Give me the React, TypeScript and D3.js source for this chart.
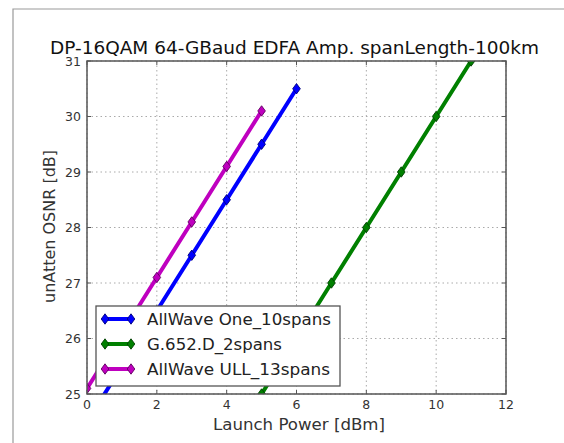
import React from "react";
import * as d3 from "d3";

const xTicks = [0, 2, 4, 6, 8, 10, 12];
const yTicks = [25, 26, 27, 28, 29, 30, 31];

const blueX = [0, 1, 2, 3, 4, 5, 6];
const blueY = [24.5, 25.5, 26.5, 27.5, 28.5, 29.5, 30.5];
const greenX = [5, 6, 7, 8, 9, 10, 11];
const greenY = [25, 26, 27, 28, 29, 30, 31];
const magentaX = [0, 1, 2, 3, 4, 5];
const magentaY = [25.1, 26.1, 27.1, 28.1, 29.1, 30.1];

const seriesNames = ["AllWave One_10spans", "G.652.D_2spans", "AllWave ULL_13spans"];
const seriesColors = ["#0000ff", "#008000", "#bf00bf"];
const seriesEdge = ["#00007a", "#004000", "#600060"];

const title = "DP-16QAM 64-GBaud EDFA Amp. spanLength-100km";
const xLabel = "Launch Power [dBm]";
const yLabel = "unAtten OSNR [dB]";

export default function App() {
  const W = 564, H = 443;
  const left = 87, right = 506, top = 61, bottom = 394;
  const x = d3.scaleLinear().domain([0, 12]).range([left, right]);
  const y = d3.scaleLinear().domain([25, 31]).range([bottom, top]);
  const font = "'DejaVu Sans', sans-serif";
  const series = [
    { xs: blueX, ys: blueY },
    { xs: greenX, ys: greenY },
    { xs: magentaX, ys: magentaY },
  ];
  const line = d3.line<[number, number]>().x(d => x(d[0])).y(d => y(d[1]));
  const diamond = (cx: number, cy: number, w = 3.8, h = 5.2) =>
    `M${cx},${cy - h}L${cx + w},${cy}L${cx},${cy + h}L${cx - w},${cy}Z`;

  const legX = 96, legY = 306, legW = 244, legH = 80;
  const rowY = [319, 344, 369];
  const legLens = [184, 135, 183];

  return (
    <svg width={W} height={H} style={{ position: "absolute", left: 0, top: 0 }} fontFamily={font}>
      <rect x={0} y={0} width={W} height={H} fill="#fff" />
      <path d={`M13,${H}V9H${W}`} fill="none" stroke="#9a9a9a" strokeWidth={1.2} />
      <defs>
        <clipPath id="plotclip">
          <rect x={left} y={top} width={right - left} height={bottom - top} />
        </clipPath>
      </defs>
      {/* grid */}
      {xTicks.map(t => (
        <line key={"gx" + t} x1={x(t)} x2={x(t)} y1={top} y2={bottom} stroke="#aaa" strokeDasharray="1.5,3" strokeWidth={1} />
      ))}
      {yTicks.map(t => (
        <line key={"gy" + t} x1={left} x2={right} y1={y(t)} y2={y(t)} stroke="#aaa" strokeDasharray="1.5,3" strokeWidth={1} />
      ))}
      {/* ticks */}
      {xTicks.map(t => (
        <g key={"tx" + t}>
          <line x1={x(t)} x2={x(t)} y1={bottom} y2={bottom - 4} stroke="#555" />
          <line x1={x(t)} x2={x(t)} y1={top} y2={top + 4} stroke="#555" />
          <text x={x(t)} y={409} textAnchor="middle" fontSize={12.5} fill="#333">{t}</text>
        </g>
      ))}
      {yTicks.map(t => (
        <g key={"ty" + t}>
          <line x1={left} x2={left + 4} y1={y(t)} y2={y(t)} stroke="#555" />
          <line x1={right} x2={right - 4} y1={y(t)} y2={y(t)} stroke="#555" />
          <text x={81} y={y(t) + 4.5} textAnchor="end" fontSize={12.5} fill="#333">{t}</text>
        </g>
      ))}
      {/* data */}
      <g clipPath="url(#plotclip)">
        {series.map((s, i) => {
          const pts = s.xs.map((v, j) => [v, s.ys[j]] as [number, number]);
          return (
            <g key={"s" + i}>
              <path d={line(pts) || ""} fill="none" stroke={seriesColors[i]} strokeWidth={4} />
              {pts.map((p, j) => (
                <path key={j} d={diamond(x(p[0]), y(p[1]))} fill={seriesColors[i]} stroke={seriesEdge[i]} strokeWidth={0.9} />
              ))}
            </g>
          );
        })}
      </g>
      <rect x={left} y={top} width={right - left} height={bottom - top} fill="none" stroke="#555" strokeWidth={1.5} />
      {/* legend */}
      <rect x={legX} y={legY} width={legW} height={legH} fill="#fff" stroke="#555" strokeWidth={1.3} />
      {seriesNames.map((n, i) => (
        <g key={"l" + i}>
          <line x1={105} x2={131} y1={rowY[i]} y2={rowY[i]} stroke={seriesColors[i]} strokeWidth={4} />
          <path d={diamond(105, rowY[i])} fill={seriesColors[i]} stroke={seriesEdge[i]} strokeWidth={0.9} />
          <path d={diamond(131, rowY[i])} fill={seriesColors[i]} stroke={seriesEdge[i]} strokeWidth={0.9} />
          <text x={147} y={rowY[i] + 5.5} fontSize={15} fill="#222" textLength={legLens[i]} lengthAdjust="spacingAndGlyphs">{n}</text>
        </g>
      ))}
      {/* labels */}
      <text x={50} y={54} fontSize={17.5} fill="#111" textLength={489} lengthAdjust="spacingAndGlyphs">{title}</text>
      <text x={213} y={430} fontSize={15} fill="#333" textLength={172} lengthAdjust="spacingAndGlyphs">{xLabel}</text>
      <text transform={`translate(55,303) rotate(-90)`} fontSize={15} fill="#333" textLength={153} lengthAdjust="spacingAndGlyphs">{yLabel}</text>
    </svg>
  );
}
